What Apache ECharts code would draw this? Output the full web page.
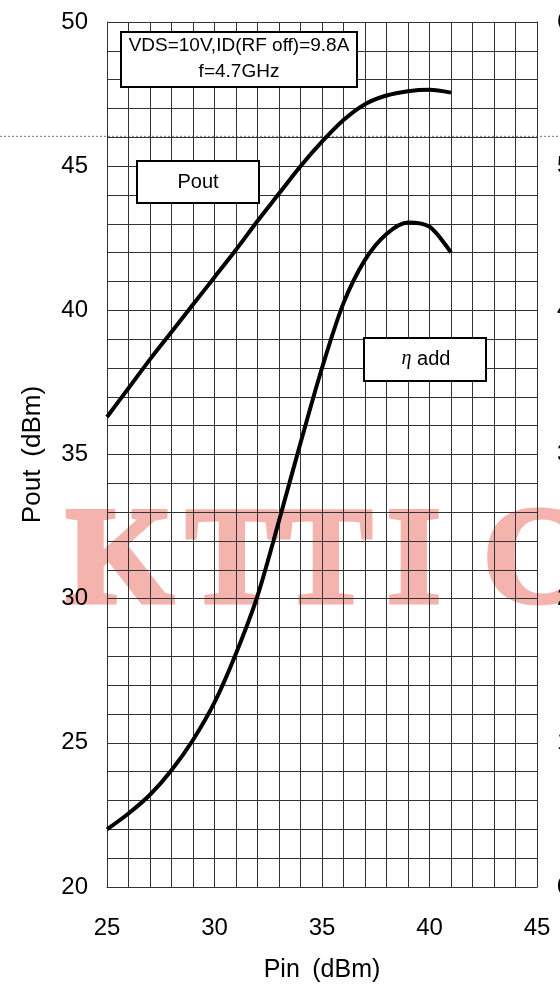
<!DOCTYPE html>
<html><head><meta charset="utf-8">
<script src="https://cdn.jsdelivr.net/npm/echarts@6/dist/echarts.min.js"></script>
<style>html,body{margin:0;padding:0;background:#fff}#c{width:560px;height:984px}</style>
</head><body><div id="c"></div>
<script>
// Data
const pin    = [25, 26, 27, 28, 29, 30, 31, 32, 33, 34, 35, 36, 37, 38, 39, 40, 41];
const pout   = [36.3, 37.3, 38.3, 39.25, 40.2, 41.15, 42.1, 43.1, 44.05, 45.0, 45.85, 46.6, 47.15, 47.45, 47.6, 47.65, 47.55];
const etaAdd = [4.0, 5.1, 6.4, 8.1, 10.2, 12.8, 16.2, 20.2, 25.4, 30.8, 36.0, 40.5, 43.5, 45.3, 46.1, 45.8, 44.0];
const xRange = [25, 45];
const yLeftRange = [20, 50];
const yRightRange = [0, 60];
const condText = ['VDS=10V,ID(RF off)=9.8A', 'f=4.7GHz'];
const watermark = ['K', 'T', 'T', 'I', 'C'];

const chart = echarts.init(document.getElementById('c'));
const gridLine = { show: true, lineStyle: { color: '#333', width: 1 } };
const FONT = '"Liberation Sans", Arial, sans-serif';

chart.setOption({
  animation: false,
  backgroundColor: '#fff',
  grid: { left: 107, right: 23, top: 22, bottom: 97, containLabel: false, outerBoundsMode: 'none' },
  xAxis: {
    type: 'value', min: xRange[0], max: xRange[1], interval: 5,
    name: 'Pin\u2002(dBm)', nameLocation: 'middle', nameGap: 71,
    nameTextStyle: { fontSize: 25, color: '#000', fontFamily: FONT },
    axisLine: { show: true, lineStyle: { color: '#333', width: 1 } },
    axisTick: { show: false },
    axisLabel: { fontSize: 24, color: '#000', margin: 29, fontFamily: FONT },
    splitLine: gridLine,
    minorTick: { show: false, splitNumber: 5 },
    minorSplitLine: gridLine
  },
  yAxis: [{
    type: 'value', min: yLeftRange[0], max: yLeftRange[1], interval: 5,
    name: 'Pout\u2002(dBm)', nameLocation: 'middle', nameGap: 61, nameRotate: 90,
    nameTextStyle: { fontSize: 26, color: '#000', fontFamily: FONT },
    axisLine: { show: true, lineStyle: { color: '#333', width: 1 } },
    axisTick: { show: false },
    axisLabel: { fontSize: 24, color: '#000', margin: 19, fontFamily: FONT },
    splitLine: gridLine,
    minorTick: { show: false, splitNumber: 5 },
    minorSplitLine: gridLine
  }, {
    type: 'value', min: yRightRange[0], max: yRightRange[1], interval: 10, position: 'right',
    axisLine: { show: true, lineStyle: { color: '#333', width: 1 } },
    axisTick: { show: false },
    axisLabel: { fontSize: 24, color: '#000', margin: 20, fontFamily: FONT },
    splitLine: { show: false }
  }],
  series: [{
    type: 'line', name: 'Pout', data: pin.map((x, i) => [x, pout[i]]),
    smooth: 0.3, symbol: 'none', lineStyle: { color: '#000', width: 4 }, z: 5
  }, {
    type: 'line', name: 'eta add', yAxisIndex: 1, data: pin.map((x, i) => [x, etaAdd[i]]),
    smooth: 0.3, symbol: 'none', lineStyle: { color: '#000', width: 4 }, z: 5
  }]
});

function draw() {
  const yDot = chart.convertToPixel({ yAxisIndex: 0 }, 46) - 1;
  const els = [];
  els.push({ type: 'line', z: -2, shape: { x1: 0, y1: yDot, x2: 560, y2: yDot },
    style: { stroke: '#777', lineWidth: 1, lineDash: [2, 2] } });
  // watermark
  const wx = [66, 186, 280, 387, 483];
  watermark.forEach((ch, i) => {
    els.push({ type: 'text', z: -1, x: wx[i], y: 566,
      style: { text: ch, font: 'bold 138px "Liberation Serif", "Times New Roman", serif',
        fill: '#f4b4ad', stroke: '#f4b4ad', lineWidth: 5,
        textVerticalAlign: 'middle', textAlign: 'left' } });
  });
  // condition box
  els.push({ type: 'rect', z: 10, shape: { x: 121, y: 32, width: 236, height: 55 },
    style: { fill: '#fff', stroke: '#000', lineWidth: 2 } });
  els.push({ type: 'text', z: 11, x: 239, y: 46,
    style: { text: condText[0], font: '19px ' + FONT, fill: '#000', textAlign: 'center', textVerticalAlign: 'middle' } });
  els.push({ type: 'text', z: 11, x: 239, y: 72,
    style: { text: condText[1], font: '19px ' + FONT, fill: '#000', textAlign: 'center', textVerticalAlign: 'middle' } });
  // Pout box
  els.push({ type: 'rect', z: 10, shape: { x: 137, y: 161, width: 122, height: 42 },
    style: { fill: '#fff', stroke: '#000', lineWidth: 2 } });
  els.push({ type: 'text', z: 11, x: 198, y: 182,
    style: { text: 'Pout', font: '20px ' + FONT, fill: '#000', textAlign: 'center', textVerticalAlign: 'middle' } });
  // eta box
  els.push({ type: 'rect', z: 10, shape: { x: 364, y: 338, width: 122, height: 43 },
    style: { fill: '#fff', stroke: '#000', lineWidth: 2 } });
  els.push({ type: 'text', z: 11, x: 426, y: 359,
    style: { text: '{e|η} add', font: '20px ' + FONT, fill: '#000', textAlign: 'center', textVerticalAlign: 'middle',
      rich: { e: { fontStyle: 'italic', fontSize: 20, fontFamily: '"Liberation Serif", serif' } } } });
  chart.setOption({ graphic: { elements: els } });
}
draw();
</script>
</body></html>
